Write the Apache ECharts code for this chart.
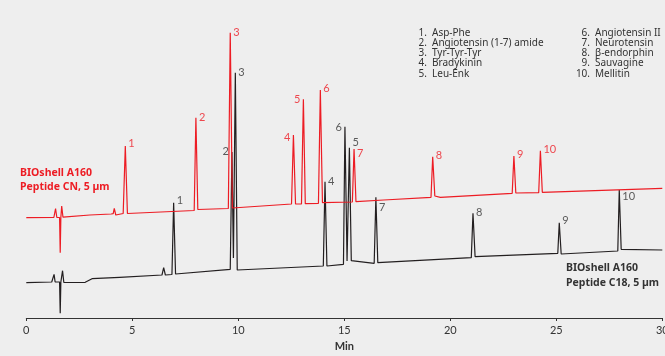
<!DOCTYPE html>
<html>
<head>
<meta charset="utf-8">
<script src="https://cdn.jsdelivr.net/npm/echarts@6/dist/echarts.min.js"></script>
<style>
html,body{margin:0;padding:0;background:#eeeeee;}
#c{width:665px;height:356px;}
</style>
</head>
<body>
<div id="c"></div>
<script>
// ---- Data (time in min, detector signal in arbitrary units) ----
var redTime = [0, 1.30, 1.38, 1.44, 1.57, 1.60, 1.63, 1.67, 1.73, 3.0, 4.0, 4.10, 4.15, 4.22, 4.57, 4.67, 4.77,
  7.92, 8.0, 8.09, 9.53, 9.62, 9.72, 12.51, 12.6, 12.7, 12.98, 13.07, 13.16, 13.78, 13.87, 13.97,
  15.38, 15.46, 15.55, 16.86, 19.09, 19.17, 19.27, 19.53, 22.92, 23.0, 23.09, 24.17, 24.25, 24.34, 30];
var redSignal = [100.3, 100.5, 109.5, 100.5, 100.5, 65.3, 100.5, 112, 100.8, 103, 104, 104.3, 109.7, 103, 104.5, 172, 104.5,
  107.5, 200.3, 108.5, 109.5, 285.3, 110, 114, 183, 114, 114, 218.7, 114.3, 114.7, 228, 115.3,
  116, 169, 116.3, 118, 120.7, 161.3, 122, 120.7, 124.7, 162, 125, 125.3, 167.3, 125.7, 129.7];

var blackTime = [0, 1.20, 1.31, 1.36, 1.57, 1.60, 1.63, 1.71, 1.77, 2.78, 3.1, 4.4, 6.40, 6.48, 6.56, 6.87, 6.95, 7.04,
  9.62, 9.70, 9.77, 9.86, 9.95, 14.01, 14.09, 14.18, 14.96, 15.03, 15.13, 15.24, 15.33,
  16.41, 16.49, 16.58, 20.99, 21.07, 21.17, 25.07, 25.14, 25.23, 27.90, 27.97, 28.06, 30];
var blackSignal = [35.3, 36, 43.7, 36, 36, 4.7, 36, 47.3, 35.5, 35.7, 39.3, 40.7, 43, 50.3, 43, 43.5, 115.3, 44,
  48.7, 166, 60, 245.3, 48, 52, 136.3, 52, 53.7, 191.3, 57, 170.3, 57.3,
  54.7, 120.7, 55.3, 60.3, 104.7, 61.3, 64.7, 95.3, 64, 67, 128, 68.7, 68];

var peakNumbers = ['1','2','3','4','5','6','7','8','9','10'];
var redPeakTime = [4.67, 8.0, 9.62, 12.6, 13.07, 13.87, 15.46, 19.17, 23.0, 24.25];
var redPeakSignal = [172, 200.3, 285.3, 183, 218.7, 228, 169, 161.3, 162, 167.3];
var blackPeakTime = [6.95, 9.70, 9.86, 14.09, 15.24, 15.03, 16.49, 21.07, 25.14, 27.97];
var blackPeakSignal = [115.3, 166, 245.3, 136.3, 170.3, 191.3, 120.7, 104.7, 95.3, 128];

var compounds = ['Asp-Phe', 'Angiotensin (1-7) amide', 'Tyr-Tyr-Tyr', 'Bradykinin', 'Leu-Enk',
  'Angiotensin II', 'Neurotensin', 'β-endorphin', 'Sauvagine', 'Mellitin'];
var xTicks = [0, 5, 10, 15, 20, 25, 30];

// ---- Styling / layout ----
var RED = '#ed1c24', BLACK = '#231f20', TXT = '#333333';
var FONT = '"Noto Sans", sans-serif';
var NFONT = 'Lato, "Noto Sans", sans-serif';
// label placement per peak: [side, dy]
var redLabelPlace = [['right',-3],['right',0],['right',0],['left',2],['left',0],['right',-2],['right',4],['right',-1],['right',-2],['right',-1]];
var blackLabelPlace = [['right',-2],['left',-1],['right',0],['right',0],['right',-5],['left',1],['right',10],['right',-1],['right',-2],['right',6]];

function zip(a, b) { return a.map(function (v, i) { return [v, b[i]]; }); }
function peakLabels(times, sigs, places, color) {
  return times.map(function (t, i) {
    return {
      value: [t, sigs[i]],
      label: {
        show: true, formatter: peakNumbers[i], position: places[i][0], distance: 3,
        offset: [0, places[i][1]], color: color, fontSize: 11, fontFamily: NFONT
      }
    };
  });
}

var graphics = [];
for (var i = 0; i < 5; i++) {
  var yy = 33 + i * 10.2;
  graphics.push({type:'text', x: 427, y: yy, style:{text: (i+1)+'.', fill: TXT, font: '10px ' + FONT, textAlign:'right', textVerticalAlign:'middle'}});
  graphics.push({type:'text', x: 432, y: yy, style:{text: compounds[i], fill: TXT, font: '10px ' + FONT, textAlign:'left', textVerticalAlign:'middle'}});
  graphics.push({type:'text', x: 590, y: yy, style:{text: (i+6)+'.', fill: TXT, font: '10px ' + FONT, textAlign:'right', textVerticalAlign:'middle'}});
  graphics.push({type:'text', x: 595, y: yy, style:{text: compounds[i+5], fill: TXT, font: '10px ' + FONT, textAlign:'left', textVerticalAlign:'middle'}});
}
graphics.push({type:'text', x: 20, y: 173.3, style:{text:'BIOshell A160', fill: RED, font:'bold 10.5px ' + FONT, textVerticalAlign:'middle'}});
graphics.push({type:'text', x: 20, y: 186.7, style:{text:'Peptide CN, 5 µm', fill: RED, font:'bold 10.5px ' + FONT, textVerticalAlign:'middle'}});
graphics.push({type:'text', x: 566, y: 267.7, style:{text:'BIOshell A160', fill: TXT, font:'bold 10.5px ' + FONT, textVerticalAlign:'middle'}});
graphics.push({type:'text', x: 566, y: 282.7, style:{text:'Peptide C18, 5 µm', fill: TXT, font:'bold 10.5px ' + FONT, textVerticalAlign:'middle'}});

var chart = echarts.init(document.getElementById('c'), null, {renderer: 'canvas'});
chart.setOption({
  backgroundColor: '#eeeeee',
  animation: false,
  grid: {left: 26.3, right: 2.7, top: 0, bottom: 38, containLabel: false, outerBoundsMode: 'none'},
  xAxis: {
    type: 'value', min: xTicks[0], max: xTicks[xTicks.length-1], interval: 5,
    name: 'Min', nameLocation: 'middle', nameGap: 22,
    nameTextStyle: {color: TXT, fontWeight: 'bold', fontSize: 11, fontFamily: NFONT},
    axisLine: {lineStyle: {color: TXT, width: 1}},
    axisTick: {inside: false, length: 3, lineStyle: {color: TXT}},
    axisLabel: {color: TXT, fontSize: 11, fontFamily: NFONT, margin: 7, hideOverlap: false},
    splitLine: {show: false}
  },
  yAxis: {type: 'value', min: 0, max: 318, show: false, splitLine: {show: false}},
  graphic: graphics,
  series: [
    {type: 'line', data: zip(blackTime, blackSignal), showSymbol: false, symbol: 'none',
     lineStyle: {color: BLACK, width: 1.2}, z: 2},
    {type: 'line', data: zip(redTime, redSignal), showSymbol: false, symbol: 'none',
     lineStyle: {color: RED, width: 1.2}, z: 3},
    {type: 'scatter', symbolSize: 0, data: peakLabels(redPeakTime, redPeakSignal, redLabelPlace, RED), z: 4},
    {type: 'scatter', symbolSize: 0, data: peakLabels(blackPeakTime, blackPeakSignal, blackLabelPlace, TXT), z: 4}
  ]
});
</script>
</body>
</html>
